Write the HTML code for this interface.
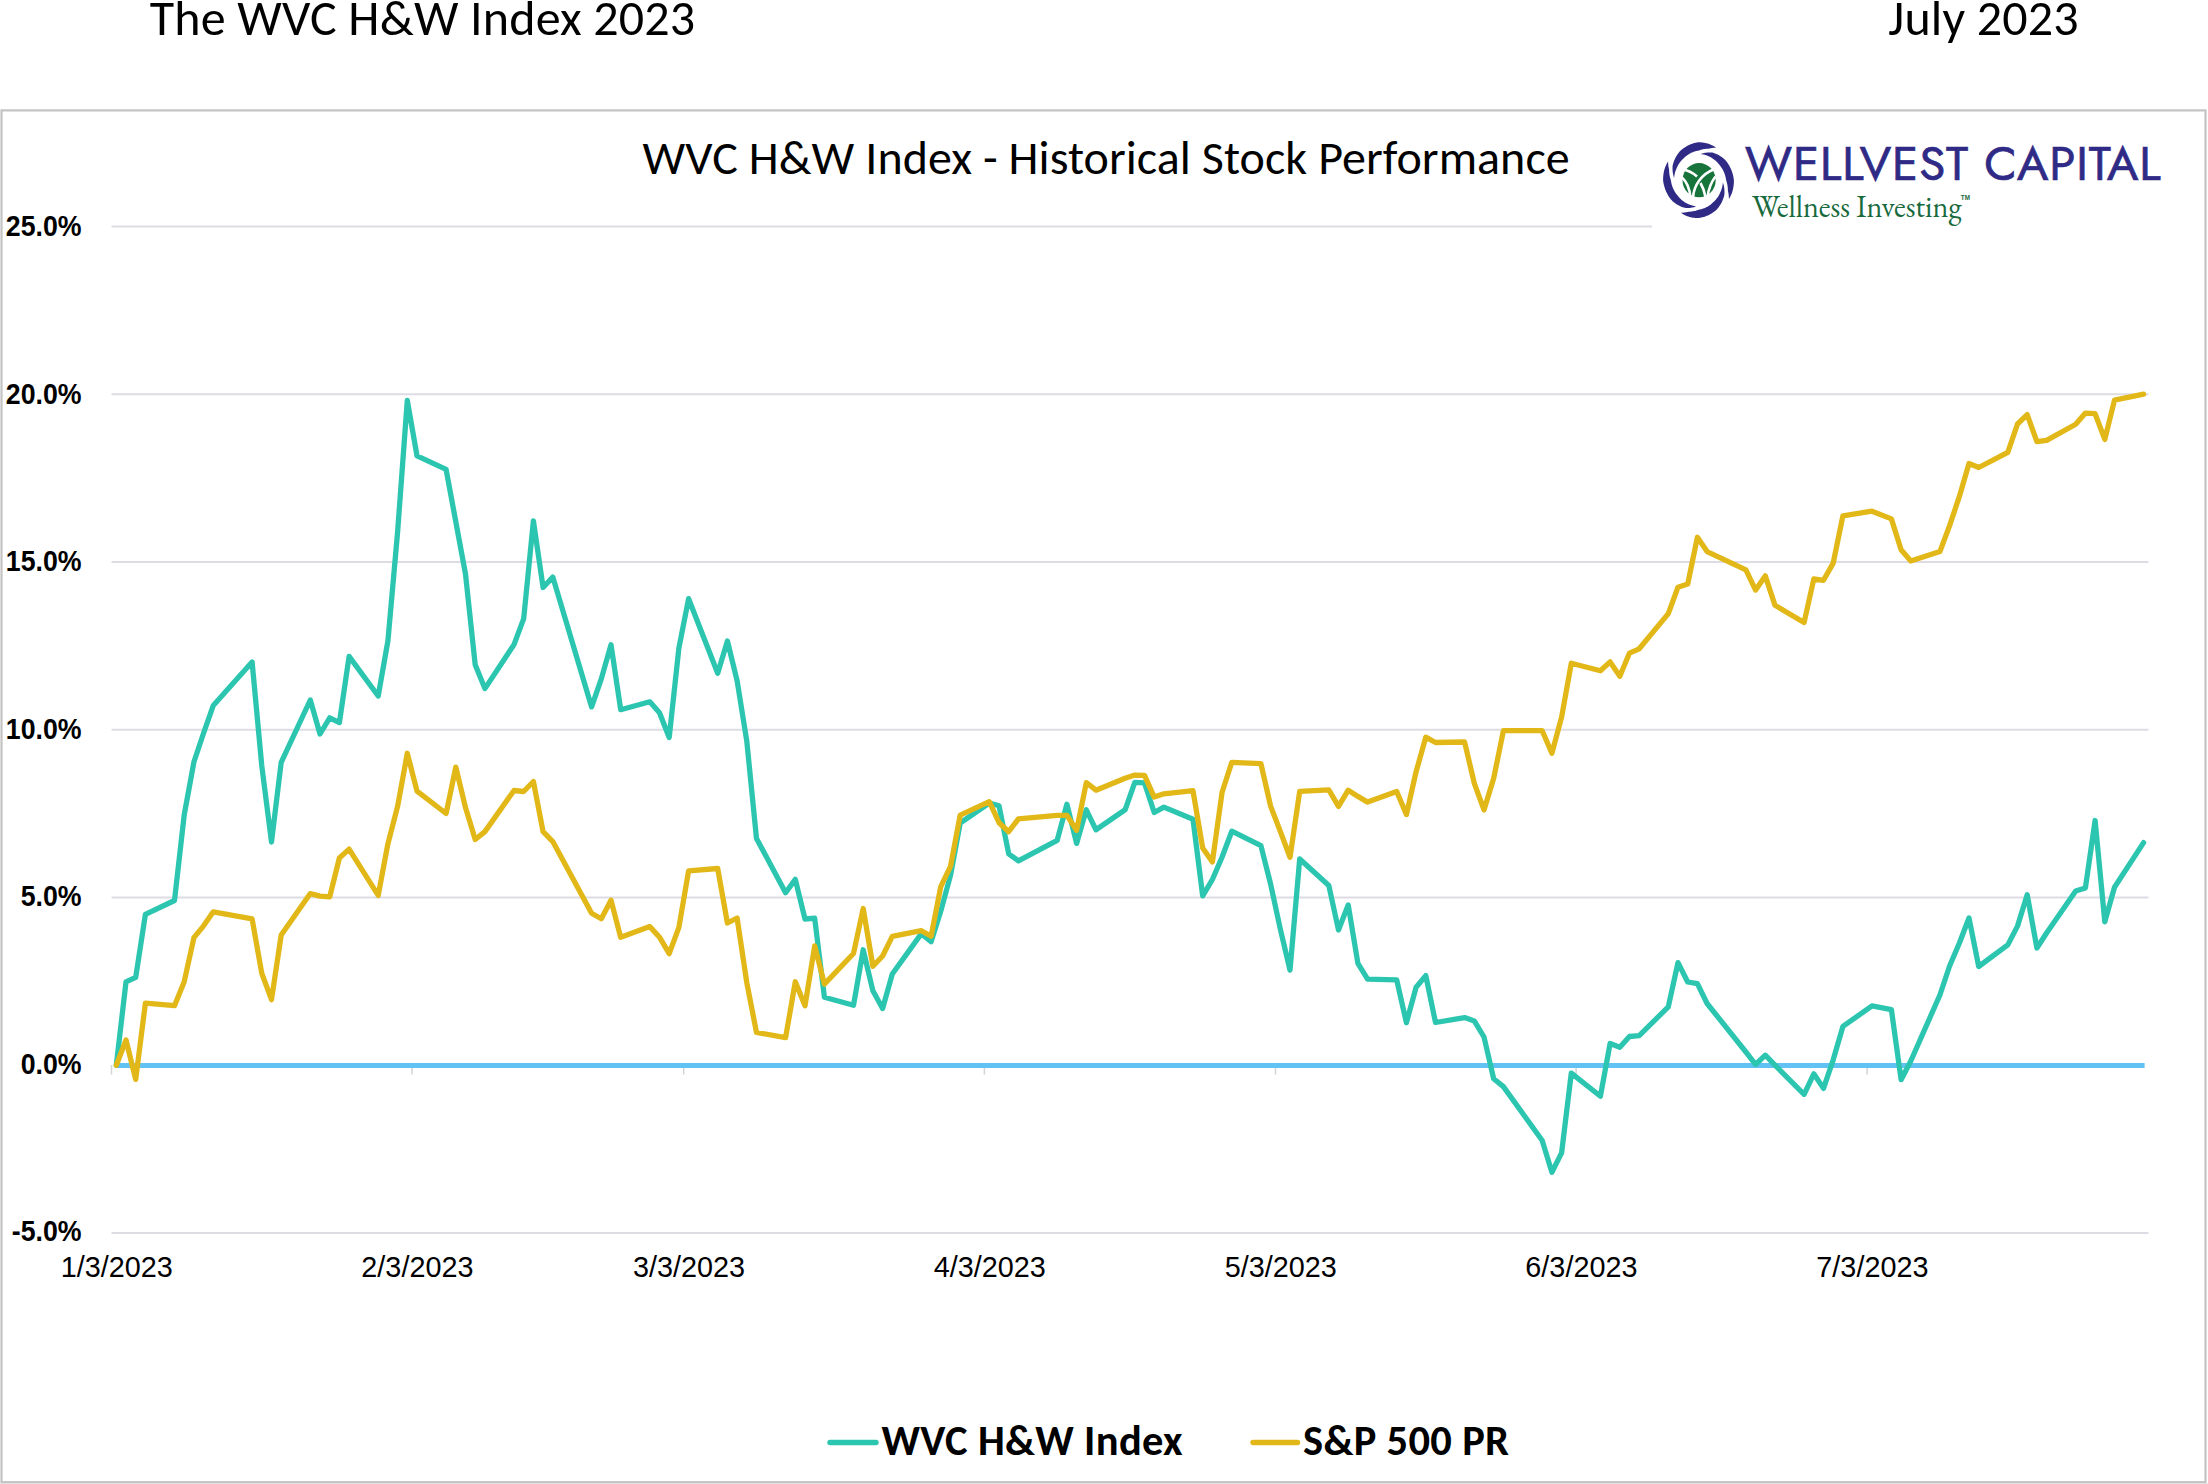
<!DOCTYPE html>
<html><head><meta charset="utf-8"><title>The WVC H&amp;W Index 2023</title>
<style>
html,body{margin:0;padding:0;background:#fff;}
body{width:2208px;height:1484px;overflow:hidden;position:relative;}
svg{position:absolute;left:0;top:0;display:block;}
.hd{font-family:Carlito,"Liberation Sans",sans-serif;font-size:50px;fill:#000;}
.tt{font-family:Carlito,"Liberation Sans",sans-serif;font-size:48px;fill:#000;}
.yl{font-family:"Liberation Sans",Arial,sans-serif;font-weight:700;font-size:30.3px;fill:#000;text-anchor:end;}
.xl{font-family:"Liberation Sans",Arial,sans-serif;font-size:28.8px;fill:#000;text-anchor:middle;}
.lg{font-family:Carlito,"Liberation Sans",sans-serif;font-weight:700;font-size:42.5px;letter-spacing:0.33px;fill:#000;}
.lw{font-family:Jost,"Liberation Sans",sans-serif;font-size:47.5px;font-weight:400;letter-spacing:0.92px;fill:#2f2a85;stroke:#2f2a85;stroke-width:0.7px;}
.li{font-family:"EB Garamond","Liberation Serif",serif;font-size:30.2px;fill:#186a3d;}
</style></head><body>
<svg width="2208" height="1484" viewBox="0 0 2208 1484">
<rect x="0" y="0" width="2208" height="1484" fill="#fff"/>
<text x="149.8" y="34.8" class="hd" style="letter-spacing:0.17px" textLength="545.56" lengthAdjust="spacingAndGlyphs">The WVC H&amp;W Index 2023</text>
<text x="1888.3" y="34.8" class="hd" style="letter-spacing:0.17px" textLength="190.53" lengthAdjust="spacingAndGlyphs">July 2023</text>
<rect x="1.5" y="110.4" width="2204" height="1371.8" fill="none" stroke="#c3c3c3" stroke-width="2.2"/>
<rect x="0" y="1483.3" width="2208" height="0.7" fill="#dfdfdf"/>
<line x1="111.5" y1="226.4" x2="1652" y2="226.4" stroke="#dddce5" stroke-width="2"/><line x1="111.5" y1="394.2" x2="2148.5" y2="394.2" stroke="#dddce5" stroke-width="2"/><line x1="111.5" y1="562.0" x2="2148.5" y2="562.0" stroke="#dddce5" stroke-width="2"/><line x1="111.5" y1="729.8" x2="2148.5" y2="729.8" stroke="#dddce5" stroke-width="2"/><line x1="111.5" y1="897.5" x2="2148.5" y2="897.5" stroke="#dddce5" stroke-width="2"/><line x1="111.5" y1="1233.1" x2="2148.5" y2="1233.1" stroke="#dddce5" stroke-width="2"/>
<line x1="111.5" y1="1065" x2="111.5" y2="1074.5" stroke="#d4d4d4" stroke-width="1.5"/><line x1="412.1" y1="1065" x2="412.1" y2="1074.5" stroke="#d4d4d4" stroke-width="1.5"/><line x1="683.7" y1="1065" x2="683.7" y2="1074.5" stroke="#d4d4d4" stroke-width="1.5"/><line x1="984.4" y1="1065" x2="984.4" y2="1074.5" stroke="#d4d4d4" stroke-width="1.5"/><line x1="1275.5" y1="1065" x2="1275.5" y2="1074.5" stroke="#d4d4d4" stroke-width="1.5"/><line x1="1576.1" y1="1065" x2="1576.1" y2="1074.5" stroke="#d4d4d4" stroke-width="1.5"/><line x1="1867.1" y1="1065" x2="1867.1" y2="1074.5" stroke="#d4d4d4" stroke-width="1.5"/>
<polyline points="116.3,1065.5 2144.6,1065.5" fill="none" stroke="#63c2f4" stroke-width="5.2" stroke-linecap="butt"/>
<polyline points="116.3,1065.3 126.0,981.9 135.7,977.3 145.4,914.4 174.5,900.5 184.2,815.0 193.9,762.0 203.6,733.0 213.3,705.4 252.1,662.0 261.8,766.0 271.5,842.0 281.2,762.3 310.3,700.0 320.0,734.0 329.7,717.8 339.4,722.6 349.1,656.4 378.2,696.0 387.9,641.0 397.6,532.0 407.3,400.5 417.0,455.8 446.1,469.4 455.8,521.7 465.5,574.0 475.2,664.8 484.9,688.6 514.0,644.6 523.7,618.6 533.4,520.8 543.1,587.5 552.8,577.1 591.6,706.9 601.3,678.9 611.0,644.7 620.7,709.7 649.8,701.8 659.5,712.7 669.2,737.5 678.9,648.0 688.6,598.7 717.7,673.3 727.4,641.0 737.1,680.6 746.8,741.2 756.5,838.4 785.6,892.7 795.3,879.4 805.0,919.0 814.7,918.2 824.4,997.2 853.5,1005.3 863.2,949.8 872.9,990.8 882.6,1008.5 892.3,974.0 921.4,933.6 931.1,941.7 940.8,911.0 950.5,875.4 960.2,823.0 989.3,803.0 999.0,805.8 1008.7,853.8 1018.4,860.8 1057.2,840.3 1066.9,804.2 1076.6,843.4 1086.3,809.8 1096.0,829.8 1125.1,809.8 1134.8,782.3 1144.5,782.9 1154.2,812.5 1163.9,807.1 1193.0,819.3 1202.7,895.8 1212.4,879.5 1222.1,857.0 1231.8,831.2 1260.9,845.6 1270.6,884.0 1280.3,929.0 1290.0,970.1 1299.7,859.0 1328.8,885.5 1338.5,930.0 1348.2,904.9 1357.9,963.4 1367.6,979.2 1396.7,979.8 1406.4,1022.7 1416.1,987.3 1425.8,975.6 1435.5,1022.5 1464.6,1017.6 1474.3,1020.9 1484.0,1037.0 1493.7,1078.8 1503.4,1086.6 1542.2,1140.5 1551.9,1172.3 1561.6,1152.9 1571.3,1073.1 1600.4,1096.3 1610.1,1043.5 1619.8,1047.3 1629.5,1036.5 1639.2,1035.7 1668.3,1006.8 1678.0,962.6 1687.7,982.0 1697.4,983.7 1707.1,1003.5 1745.9,1052.0 1755.6,1064.5 1765.3,1055.2 1775.0,1065.2 1804.1,1094.3 1813.8,1073.8 1823.5,1088.4 1833.2,1059.8 1842.9,1026.4 1872.0,1005.9 1891.4,1009.6 1901.1,1079.7 1910.8,1061.0 1939.9,995.0 1949.6,966.0 1959.3,943.3 1969.0,918.0 1978.7,966.5 2007.8,944.9 2017.5,926.1 2027.2,894.8 2036.9,948.0 2046.6,933.0 2075.7,891.1 2085.4,887.9 2095.1,820.5 2104.8,921.8 2114.5,887.3 2143.6,842.6" fill="none" stroke="#2cc6b0" stroke-width="5.3" stroke-linejoin="round" stroke-linecap="round"/>
<polyline points="116.3,1065.3 126.0,1040.0 135.7,1079.4 145.4,1003.1 174.5,1005.7 184.2,981.8 193.9,937.7 203.6,925.8 213.3,911.8 252.1,918.9 261.8,973.4 271.5,999.7 281.2,935.0 310.3,893.6 320.0,896.1 329.7,896.8 339.4,858.0 349.1,849.1 378.2,895.4 387.9,843.8 397.6,806.4 407.3,753.3 417.0,791.2 446.1,813.5 455.8,767.1 465.5,807.6 475.2,839.5 484.9,831.6 514.0,790.5 523.7,791.5 533.4,781.5 543.1,831.7 552.8,841.6 591.6,913.3 601.3,918.8 611.0,900.2 620.7,937.3 649.8,926.6 659.5,937.2 669.2,953.6 678.9,927.4 688.6,870.9 717.7,868.5 727.4,923.0 737.1,918.0 746.8,982.7 756.5,1032.4 785.6,1037.6 795.3,981.8 805.0,1005.8 814.7,945.8 824.4,984.1 853.5,953.5 863.2,908.5 872.9,966.3 882.6,956.0 892.3,936.4 921.4,930.7 931.1,936.2 940.8,886.6 950.5,866.4 960.2,815.1 989.3,801.7 999.0,822.7 1008.7,831.7 1018.4,818.8 1057.2,815.3 1066.9,815.4 1076.6,830.3 1086.3,782.7 1096.0,790.2 1125.1,778.2 1134.8,775.1 1144.5,775.4 1154.2,797.1 1163.9,793.8 1193.0,790.7 1202.7,848.1 1212.4,861.9 1222.1,792.2 1231.8,762.3 1260.9,763.7 1270.6,806.1 1280.3,831.4 1290.0,857.3 1299.7,791.4 1328.8,789.8 1338.5,806.4 1348.2,790.2 1357.9,796.4 1367.6,802.1 1396.7,791.4 1406.4,814.6 1416.1,771.7 1425.8,737.2 1435.5,742.5 1464.6,742.0 1474.3,783.3 1484.0,809.9 1493.7,778.3 1503.4,730.7 1542.2,730.7 1551.9,753.2 1561.6,717.1 1571.3,663.2 1600.4,670.8 1610.1,661.9 1619.8,676.3 1629.5,653.1 1639.2,648.8 1668.3,613.6 1678.0,587.2 1687.7,584.1 1697.4,537.3 1707.1,551.6 1745.9,569.9 1755.6,590.1 1765.3,575.9 1775.0,605.3 1804.1,622.5 1813.8,579.0 1823.5,580.3 1833.2,563.1 1842.9,515.8 1872.0,511.2 1891.4,518.9 1901.1,549.8 1910.8,560.9 1939.9,551.6 1949.6,525.6 1959.3,496.7 1969.0,463.5 1978.7,467.5 2007.8,452.3 2017.5,424.0 2027.2,414.6 2036.9,441.7 2046.6,440.4 2075.7,424.3 2085.4,413.1 2095.1,413.7 2104.8,439.4 2114.5,400.1 2143.6,394.2" fill="none" stroke="#e2b818" stroke-width="5.3" stroke-linejoin="round" stroke-linecap="round"/>
<text transform="translate(81.6,236.0) scale(0.882,1)" class="yl">25.0%</text><text transform="translate(81.6,403.5) scale(0.882,1)" class="yl">20.0%</text><text transform="translate(81.6,571.0) scale(0.882,1)" class="yl">15.0%</text><text transform="translate(81.6,738.5) scale(0.882,1)" class="yl">10.0%</text><text transform="translate(81.6,906.0) scale(0.882,1)" class="yl">5.0%</text><text transform="translate(81.6,1073.5) scale(0.882,1)" class="yl">0.0%</text><text transform="translate(81.6,1241.0) scale(0.882,1)" class="yl">-5.0%</text>
<text x="116.7" y="1276.5" class="xl">1/3/2023</text><text x="417.4" y="1276.5" class="xl">2/3/2023</text><text x="689.0" y="1276.5" class="xl">3/3/2023</text><text x="989.7" y="1276.5" class="xl">4/3/2023</text><text x="1280.7" y="1276.5" class="xl">5/3/2023</text><text x="1581.4" y="1276.5" class="xl">6/3/2023</text><text x="1872.4" y="1276.5" class="xl">7/3/2023</text>
<text x="642.6" y="174.2" class="tt" style="letter-spacing:0.06px" textLength="927.09" lengthAdjust="spacingAndGlyphs">WVC H&amp;W Index - Historical Stock Performance</text>
<rect x="1652" y="128" width="520" height="104" fill="#fff"/>
<g><g transform="translate(1698.5,180.2) scale(0.96,1.027) translate(-1699,-179.8)"><path d="M1696.78,205.20 L1695.88,205.53 L1694.96,205.82 L1694.01,206.08 L1693.04,206.31 L1692.05,206.49 L1691.05,206.65 L1690.02,206.76 L1688.98,206.84 L1687.92,206.87 L1686.85,206.87 L1685.77,206.82 L1684.68,206.73 L1683.66,206.46 L1682.64,206.15 L1681.63,205.80 L1680.62,205.41 L1679.61,204.99 L1678.62,204.52 L1677.63,204.02 L1676.66,203.48 L1675.70,202.90 L1674.75,202.28 L1673.82,201.63 L1672.90,200.93 L1672.00,200.20 L1671.13,199.44 L1670.32,198.60 L1669.58,197.71 L1668.87,196.79 L1668.19,195.84 L1667.53,194.87 L1666.91,193.87 L1666.32,192.84 L1665.76,191.79 L1665.23,190.72 L1664.74,189.62 L1664.29,188.51 L1663.87,187.37 L1663.49,186.22 L1663.14,185.05 L1662.84,183.87 L1662.57,182.67 L1662.35,181.45 L1662.16,180.23 L1662.10,178.99 L1662.14,177.76 L1662.22,176.53 L1662.34,175.30 L1662.50,174.07 L1662.70,172.85 L1662.94,171.64 L1663.23,170.44 L1663.55,169.24 L1663.91,168.06 L1664.39,166.92 L1664.90,165.79 L1665.45,164.69 L1666.03,163.60 L1666.65,162.54 L1667.30,161.50 L1667.30,161.50 L1667.34,162.91 L1667.44,164.29 L1667.59,165.65 L1667.80,166.98 L1668.06,168.28 L1668.37,169.55 L1668.39,170.69 L1668.46,171.81 L1668.56,172.91 L1668.71,174.00 L1668.89,175.08 L1669.11,176.13 L1669.37,177.16 L1669.66,178.18 L1669.99,179.17 L1670.26,180.13 L1670.42,181.09 L1670.61,182.03 L1670.83,182.97 L1671.08,183.89 L1671.37,184.80 L1671.68,185.69 L1672.02,186.57 L1672.39,187.43 L1672.79,188.27 L1673.21,189.10 L1673.66,189.91 L1674.14,190.70 L1674.64,191.46 L1675.16,192.21 L1675.70,192.94 L1676.27,193.64 L1676.86,194.32 L1677.44,194.99 L1678.00,195.67 L1678.59,196.33 L1679.19,196.97 L1679.82,197.58 L1680.46,198.17 L1681.13,198.74 L1681.81,199.29 L1682.50,199.81 L1683.22,200.31 L1683.94,200.78 L1684.68,201.22 L1685.44,201.64 L1686.20,202.04 L1686.98,202.40 L1687.75,202.79 L1688.53,203.14 L1689.32,203.47 L1690.12,203.77 L1690.93,204.05 L1691.74,204.30 L1692.57,204.52 L1693.40,204.71 L1694.24,204.88 L1695.08,205.01 L1695.93,205.12 L1696.78,205.20Z" fill="#2f2a85"/><path d="M1673.60,177.58 L1673.27,176.68 L1672.98,175.76 L1672.72,174.81 L1672.49,173.84 L1672.31,172.85 L1672.15,171.85 L1672.04,170.82 L1671.96,169.78 L1671.93,168.72 L1671.93,167.65 L1671.98,166.57 L1672.07,165.48 L1672.34,164.46 L1672.65,163.44 L1673.00,162.43 L1673.39,161.42 L1673.81,160.41 L1674.28,159.42 L1674.78,158.43 L1675.32,157.46 L1675.90,156.50 L1676.52,155.55 L1677.17,154.62 L1677.87,153.70 L1678.60,152.80 L1679.36,151.93 L1680.20,151.12 L1681.09,150.38 L1682.01,149.67 L1682.96,148.99 L1683.93,148.33 L1684.93,147.71 L1685.96,147.12 L1687.01,146.56 L1688.08,146.03 L1689.18,145.54 L1690.29,145.09 L1691.43,144.67 L1692.58,144.29 L1693.75,143.94 L1694.93,143.64 L1696.13,143.37 L1697.35,143.15 L1698.57,142.96 L1699.81,142.90 L1701.04,142.94 L1702.27,143.02 L1703.50,143.14 L1704.73,143.30 L1705.95,143.50 L1707.16,143.74 L1708.36,144.03 L1709.56,144.35 L1710.74,144.71 L1711.88,145.19 L1713.01,145.70 L1714.11,146.25 L1715.20,146.83 L1716.26,147.45 L1717.30,148.10 L1717.30,148.10 L1715.89,148.14 L1714.51,148.24 L1713.15,148.39 L1711.82,148.60 L1710.52,148.86 L1709.25,149.17 L1708.11,149.19 L1706.99,149.26 L1705.89,149.36 L1704.80,149.51 L1703.72,149.69 L1702.67,149.91 L1701.64,150.17 L1700.62,150.46 L1699.63,150.79 L1698.67,151.06 L1697.71,151.22 L1696.77,151.41 L1695.83,151.63 L1694.91,151.88 L1694.00,152.17 L1693.11,152.48 L1692.23,152.82 L1691.37,153.19 L1690.53,153.59 L1689.70,154.01 L1688.89,154.46 L1688.10,154.94 L1687.34,155.44 L1686.59,155.96 L1685.86,156.50 L1685.16,157.07 L1684.48,157.66 L1683.81,158.24 L1683.13,158.80 L1682.47,159.39 L1681.83,159.99 L1681.22,160.62 L1680.63,161.26 L1680.06,161.93 L1679.51,162.61 L1678.99,163.30 L1678.49,164.02 L1678.02,164.74 L1677.58,165.48 L1677.16,166.24 L1676.76,167.00 L1676.40,167.78 L1676.01,168.55 L1675.66,169.33 L1675.33,170.12 L1675.03,170.92 L1674.75,171.73 L1674.50,172.54 L1674.28,173.37 L1674.09,174.20 L1673.92,175.04 L1673.79,175.88 L1673.68,176.73 L1673.60,177.58Z" fill="#2f2a85"/><path d="M1701.22,154.40 L1702.12,154.07 L1703.04,153.78 L1703.99,153.52 L1704.96,153.29 L1705.95,153.11 L1706.95,152.95 L1707.98,152.84 L1709.02,152.76 L1710.08,152.73 L1711.15,152.73 L1712.23,152.78 L1713.32,152.87 L1714.34,153.14 L1715.36,153.45 L1716.37,153.80 L1717.38,154.19 L1718.39,154.61 L1719.38,155.08 L1720.37,155.58 L1721.34,156.12 L1722.30,156.70 L1723.25,157.32 L1724.18,157.97 L1725.10,158.67 L1726.00,159.40 L1726.87,160.16 L1727.68,161.00 L1728.42,161.89 L1729.13,162.81 L1729.81,163.76 L1730.47,164.73 L1731.09,165.73 L1731.68,166.76 L1732.24,167.81 L1732.77,168.88 L1733.26,169.98 L1733.71,171.09 L1734.13,172.23 L1734.51,173.38 L1734.86,174.55 L1735.16,175.73 L1735.43,176.93 L1735.65,178.15 L1735.84,179.37 L1735.90,180.61 L1735.86,181.84 L1735.78,183.07 L1735.66,184.30 L1735.50,185.53 L1735.30,186.75 L1735.06,187.96 L1734.77,189.16 L1734.45,190.36 L1734.09,191.54 L1733.61,192.68 L1733.10,193.81 L1732.55,194.91 L1731.97,196.00 L1731.35,197.06 L1730.70,198.10 L1730.70,198.10 L1730.66,196.69 L1730.56,195.31 L1730.41,193.95 L1730.20,192.62 L1729.94,191.32 L1729.63,190.05 L1729.61,188.91 L1729.54,187.79 L1729.44,186.69 L1729.29,185.60 L1729.11,184.52 L1728.89,183.47 L1728.63,182.44 L1728.34,181.42 L1728.01,180.43 L1727.74,179.47 L1727.58,178.51 L1727.39,177.57 L1727.17,176.63 L1726.92,175.71 L1726.63,174.80 L1726.32,173.91 L1725.98,173.03 L1725.61,172.17 L1725.21,171.33 L1724.79,170.50 L1724.34,169.69 L1723.86,168.90 L1723.36,168.14 L1722.84,167.39 L1722.30,166.66 L1721.73,165.96 L1721.14,165.28 L1720.56,164.61 L1720.00,163.93 L1719.41,163.27 L1718.81,162.63 L1718.18,162.02 L1717.54,161.43 L1716.87,160.86 L1716.19,160.31 L1715.50,159.79 L1714.78,159.29 L1714.06,158.82 L1713.32,158.38 L1712.56,157.96 L1711.80,157.56 L1711.02,157.20 L1710.25,156.81 L1709.47,156.46 L1708.68,156.13 L1707.88,155.83 L1707.07,155.55 L1706.26,155.30 L1705.43,155.08 L1704.60,154.89 L1703.76,154.72 L1702.92,154.59 L1702.07,154.48 L1701.22,154.40Z" fill="#2f2a85"/><path d="M1724.40,182.02 L1724.73,182.92 L1725.02,183.84 L1725.28,184.79 L1725.51,185.76 L1725.69,186.75 L1725.85,187.75 L1725.96,188.78 L1726.04,189.82 L1726.07,190.88 L1726.07,191.95 L1726.02,193.03 L1725.93,194.12 L1725.66,195.14 L1725.35,196.16 L1725.00,197.17 L1724.61,198.18 L1724.19,199.19 L1723.72,200.18 L1723.22,201.17 L1722.68,202.14 L1722.10,203.10 L1721.48,204.05 L1720.83,204.98 L1720.13,205.90 L1719.40,206.80 L1718.64,207.67 L1717.80,208.48 L1716.91,209.22 L1715.99,209.93 L1715.04,210.61 L1714.07,211.27 L1713.07,211.89 L1712.04,212.48 L1710.99,213.04 L1709.92,213.57 L1708.82,214.06 L1707.71,214.51 L1706.57,214.93 L1705.42,215.31 L1704.25,215.66 L1703.07,215.96 L1701.87,216.23 L1700.65,216.45 L1699.43,216.64 L1698.19,216.70 L1696.96,216.66 L1695.73,216.58 L1694.50,216.46 L1693.27,216.30 L1692.05,216.10 L1690.84,215.86 L1689.64,215.57 L1688.44,215.25 L1687.26,214.89 L1686.12,214.41 L1684.99,213.90 L1683.89,213.35 L1682.80,212.77 L1681.74,212.15 L1680.70,211.50 L1680.70,211.50 L1682.11,211.46 L1683.49,211.36 L1684.85,211.21 L1686.18,211.00 L1687.48,210.74 L1688.75,210.43 L1689.89,210.41 L1691.01,210.34 L1692.11,210.24 L1693.20,210.09 L1694.28,209.91 L1695.33,209.69 L1696.36,209.43 L1697.38,209.14 L1698.37,208.81 L1699.33,208.54 L1700.29,208.38 L1701.23,208.19 L1702.17,207.97 L1703.09,207.72 L1704.00,207.43 L1704.89,207.12 L1705.77,206.78 L1706.63,206.41 L1707.47,206.01 L1708.30,205.59 L1709.11,205.14 L1709.90,204.66 L1710.66,204.16 L1711.41,203.64 L1712.14,203.10 L1712.84,202.53 L1713.52,201.94 L1714.19,201.36 L1714.87,200.80 L1715.53,200.21 L1716.17,199.61 L1716.78,198.98 L1717.37,198.34 L1717.94,197.67 L1718.49,196.99 L1719.01,196.30 L1719.51,195.58 L1719.98,194.86 L1720.42,194.12 L1720.84,193.36 L1721.24,192.60 L1721.60,191.82 L1721.99,191.05 L1722.34,190.27 L1722.67,189.48 L1722.97,188.68 L1723.25,187.87 L1723.50,187.06 L1723.72,186.23 L1723.91,185.40 L1724.08,184.56 L1724.21,183.72 L1724.32,182.87 L1724.40,182.02Z" fill="#2f2a85"/></g>
<ellipse cx="1699.1" cy="180.2" rx="16.6" ry="17.1" fill="#17743a"/>
<g fill="none" stroke="#fff" stroke-width="2.6" stroke-linecap="butt">
<path d="M1683,169.5 Q1691,171 1697,176.5"/>
<path d="M1713.5,169.5 A32.5,32.5 0 0 0 1693,197.5"/>
<path d="M1681.5,177 Q1689.5,184 1690.5,198"/>
<path d="M1700.5,183 Q1704,189 1705.5,197"/>
<path d="M1715.5,176.5 Q1709,185 1707.5,197"/>
</g></g>
<text x="1745" y="180.2" class="lw" textLength="416.63" lengthAdjust="spacingAndGlyphs">WELLVEST CAPITAL</text>
<text x="1752" y="216.8" class="li" textLength="209.53" lengthAdjust="spacingAndGlyphs">Wellness Investing</text>
<text x="1960.8" y="200.3" style="font-family:'Liberation Sans',sans-serif;font-size:6.3px;font-weight:700;fill:#186a3d">TM</text>
<line x1="830" y1="1442.5" x2="876" y2="1442.5" stroke="#2cc6b0" stroke-width="5.4" stroke-linecap="round"/>
<text x="881.5" y="1455.1" class="lg" textLength="301.44" lengthAdjust="spacingAndGlyphs">WVC H&amp;W Index</text>
<line x1="1253" y1="1442.5" x2="1297.5" y2="1442.5" stroke="#e2b818" stroke-width="5.4" stroke-linecap="round"/>
<text x="1303" y="1455.1" class="lg" textLength="206.34" lengthAdjust="spacingAndGlyphs">S&amp;P 500 PR</text>
</svg>
</body></html>
